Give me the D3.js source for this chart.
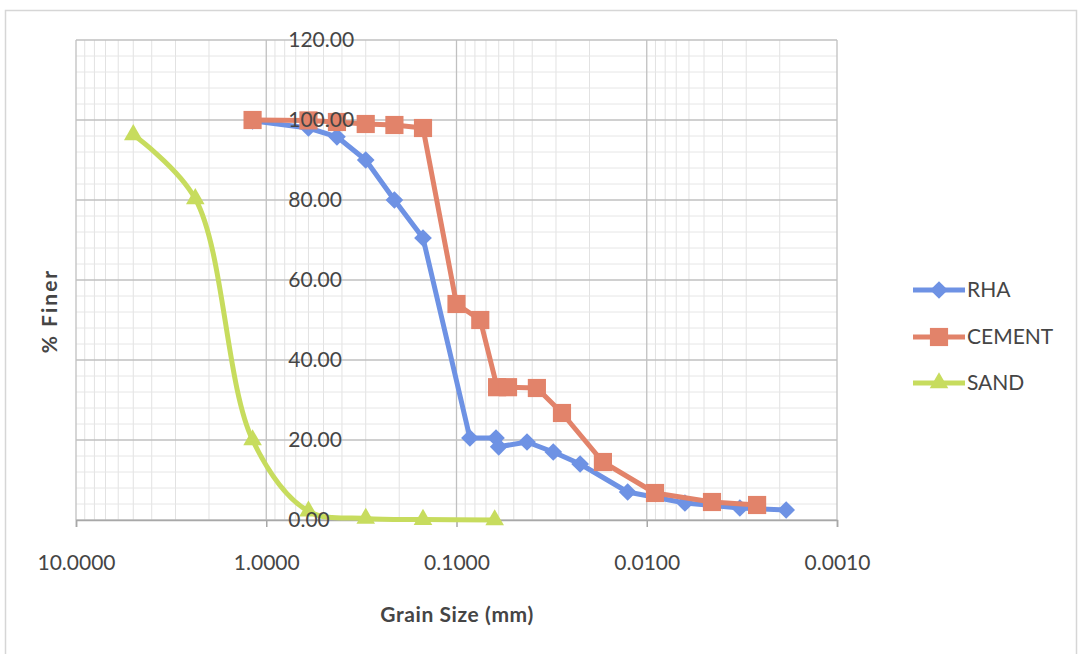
<!DOCTYPE html>
<html><head><meta charset="utf-8">
<script src="https://cdn.jsdelivr.net/npm/d3@7"></script>
<style>
html,body{margin:0;padding:0;background:#fff;}
svg{display:block;font-family:Lato,"Open Sans",sans-serif;}
</style></head>
<body><svg id="c" width="1080" height="654"></svg>
<script>
// ---- data ----
const seriesNames = ["RHA", "CEMENT", "SAND"];
const rhaSize   = [1.18, 0.6, 0.425, 0.3, 0.212, 0.15, 0.085, 0.062, 0.060, 0.0426, 0.031, 0.0224, 0.0126, 0.0063, 0.00324, 0.00185];
const rhaFiner  = [99.8, 98.0, 95.8, 90.0, 80.0, 70.5, 20.5, 20.5, 18.3, 19.5, 17.0, 14.0, 7.0, 4.25, 3.0, 2.5];
const cemSize   = [1.18, 0.6, 0.425, 0.3, 0.212, 0.15, 0.1, 0.075, 0.0612, 0.0536, 0.0378, 0.0279, 0.017, 0.00905, 0.00454, 0.00263];
const cemFiner  = [100.0, 99.9, 99.5, 99.0, 98.75, 98.0, 54.0, 50.0, 33.2, 33.2, 33.0, 26.75, 14.5, 6.75, 4.5, 3.75];
const sandSize  = [5.0, 2.36, 1.18, 0.6, 0.3, 0.15, 0.063];
const sandFiner = [96.3, 80.3, 20.0, 2.2, 0.4, 0.1, 0.0];
const xTicks = [10, 1, 0.1, 0.01, 0.001];
const yTicks = [0, 20, 40, 60, 80, 100, 120];
const xTitle = "Grain Size (mm)";
const yTitle = "% Finer";

const colors = {RHA: "#6e92e4", CEMENT: "#e2836a", SAND: "#c7dc5e"};
const textColor = "#454545";

const svg = d3.select("#c");
const L = 76, R = 837, T = 40, B = 520;
const x = d3.scaleLog().domain([10, 0.001]).range([L, R]);
const y = d3.scaleLinear().domain([0, 120]).range([B, T]);

// outer border
svg.append("rect").attr("x", 5.5).attr("y", 10.5).attr("width", 1071).attr("height", 700)
  .attr("fill", "none").attr("stroke", "#d6d6d6").attr("stroke-width", 1.5);

// minor grid
const minorX = [];
for (let e = -3; e < 1; e++) for (let m = 2; m <= 9; m++) minorX.push(m * Math.pow(10, e));
const g = svg.append("g");
g.selectAll(".mx").data(minorX).join("line")
  .attr("x1", d => x(d)).attr("x2", d => x(d)).attr("y1", T).attr("y2", B)
  .attr("stroke", "#e2e2e2").attr("stroke-width", 1);
const minorY = d3.range(0, 121, 4).filter(v => v % 20 !== 0);
g.selectAll(".my").data(minorY).join("line")
  .attr("x1", L).attr("x2", R).attr("y1", d => y(d)).attr("y2", d => y(d))
  .attr("stroke", "#e6e6e6").attr("stroke-width", 1);
// major grid
g.selectAll(".Mx").data(xTicks).join("line")
  .attr("x1", d => x(d)).attr("x2", d => x(d)).attr("y1", T).attr("y2", B)
  .attr("stroke", "#c0c0c0").attr("stroke-width", 1.3);
g.selectAll(".My").data(yTicks).join("line")
  .attr("x1", L).attr("x2", R).attr("y1", d => y(d)).attr("y2", d => y(d))
  .attr("stroke", "#c0c0c0").attr("stroke-width", 1.3);

// x axis
const xa = svg.append("g").attr("transform", `translate(0,${B})`)
  .call(d3.axisBottom(x).tickValues(xTicks).tickFormat(d3.format(".4f")).tickSize(7).tickPadding(28));
xa.select(".domain").attr("stroke", "#a8a8a8").attr("stroke-width", 1.5);
xa.selectAll(".tick line").attr("stroke", "#a8a8a8").attr("stroke-width", 1.5);
xa.selectAll("text").attr("fill", textColor).style("font-size", "21px").style("font-family", "Lato");

// titles
svg.append("text").attr("x", 457).attr("y", 622).attr("text-anchor", "middle")
  .attr("fill", textColor).style("font-weight", "bold").style("font-size", "21px")
  .style("letter-spacing", "0.6px").text(xTitle);
svg.append("text").attr("transform", "translate(57,311) rotate(-90)").attr("text-anchor", "middle")
  .attr("fill", textColor).style("font-weight", "bold").style("font-size", "21px")
  .style("letter-spacing", "2px").text(yTitle);

// series
const series = [
  {name: "RHA", pts: rhaSize.map((s, i) => [s, rhaFiner[i]]), curve: d3.curveLinear, shape: d3.symbolDiamond2, size: 200},
  {name: "CEMENT", pts: cemSize.map((s, i) => [s, cemFiner[i]]), curve: d3.curveLinear, shape: d3.symbolSquare, size: 330},
  {name: "SAND", pts: sandSize.map((s, i) => [s, sandFiner[i]]), curve: d3.curveCatmullRom.alpha(0.5), shape: d3.symbolTriangle, size: 150},
];
series.forEach(s => {
  const line = d3.line().x(d => x(d[0])).y(d => y(d[1])).curve(s.curve);
  svg.append("path").datum(s.pts).attr("d", line).attr("fill", "none")
    .attr("stroke", colors[s.name]).attr("stroke-width", 5).attr("stroke-linejoin", "round");
  svg.append("g").selectAll("path").data(s.pts).join("path")
    .attr("transform", d => `translate(${x(d[0])},${y(d[1])})`)
    .attr("d", d3.symbol().type(s.shape).size(s.size)).attr("fill", colors[s.name]);
});

// y axis labels (right of the 1.0 line), drawn over the series
const ya = svg.append("g").attr("transform", `translate(${x(1)},0)`)
  .call(d3.axisRight(y).tickValues(yTicks).tickFormat(d3.format(".2f")).tickSize(0).tickPadding(22));
ya.select(".domain").remove();
ya.selectAll("text").attr("fill", textColor).style("font-size", "21px").style("font-family", "Lato");

// legend
const legY = [290, 337, 383];
seriesNames.forEach((n, i) => {
  const s = series.find(d => d.name === n);
  const lg = svg.append("g").attr("transform", `translate(0,${legY[i]})`);
  lg.append("line").attr("x1", 913).attr("x2", 965).attr("y1", 0).attr("y2", 0)
    .attr("stroke", colors[n]).attr("stroke-width", 5);
  lg.append("path").attr("transform", "translate(939,0)")
    .attr("d", d3.symbol().type(s.shape).size(s.size)).attr("fill", colors[n]);
  lg.append("text").attr("x", 967).attr("y", 0).attr("dy", "0.35em")
    .attr("fill", textColor).style("font-size", "21px").text(n);
});
</script></body></html>
